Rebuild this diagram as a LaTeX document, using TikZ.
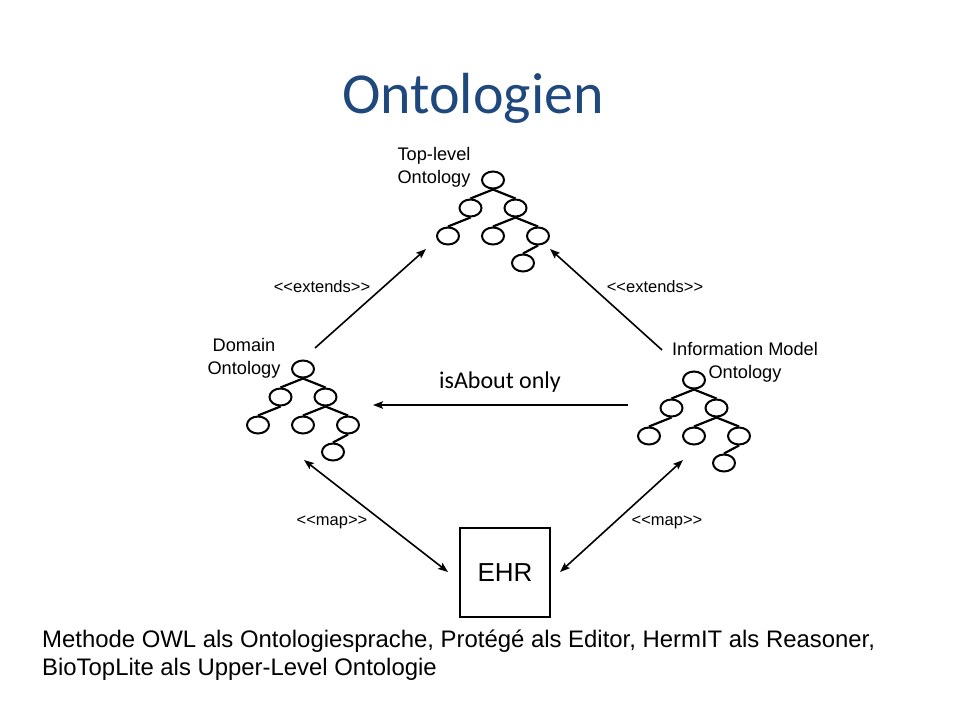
\documentclass[tikz,border=0pt]{standalone}
\usepackage{fontspec}
\setmainfont{Liberation Sans}
\newfontfamily\calibri{Carlito}
\usetikzlibrary{shapes.geometric,arrows.meta}
\definecolor{titleblue}{RGB}{31,73,125}
\tikzset{
  onode/.style={ellipse,draw,line width=2pt,minimum width=22pt,minimum height=17pt,inner sep=0pt},
  tedge/.style={line width=2.2pt},
  lbl/.style={font=\fontsize{16.5}{23}\selectfont,align=center,inner sep=0pt},
  tlbl/.style={font=\fontsize{18.2}{23}\selectfont,align=center,inner sep=0pt},
  conn/.style={line width=1.6pt,-{Stealth[length=10pt,width=7.5pt,inset=2pt]}},
  dconn/.style={line width=1.6pt,{Stealth[length=10pt,width=7.5pt,inset=2pt]}-{Stealth[length=10pt,width=7.5pt,inset=2pt]}},
}
\newcommand\onttree[2]{%
  \begin{scope}[shift={#2}]
    \node[onode] (#1r) at (0,0) {};
    \node[onode] (#1a) at (-22.5,28) {};
    \node[onode] (#1b) at (22.5,28) {};
    \node[onode] (#1c) at (-45,56) {};
    \node[onode] (#1d) at (0,56) {};
    \node[onode] (#1e) at (45,56) {};
    \node[onode] (#1f) at (30,83) {};
    \draw[tedge] (#1r.south) -- (#1a.north);
    \draw[tedge] (#1r.south) -- (#1b.north);
    \draw[tedge] (#1a.south) -- (#1c.north);
    \draw[tedge] (#1b.south) -- (#1d.north);
    \draw[tedge] (#1b.south) -- (#1e.north);
    \draw[tedge] (#1e.south) -- (#1f.north);
  \end{scope}}
\begin{document}
\begin{tikzpicture}[x=1pt,y=-1pt]
\useasboundingbox[fill=white] (0,0) rectangle (960,720);
% title
\node[font=\calibri\fontsize{58}{64}\selectfont,text=titleblue,inner sep=0pt] (title) at (473,98) {Ontologien};
% trees
\onttree{top}{(493,180)}
\onttree{dom}{(303,369)}
\onttree{inf}{(694,380)}
% tree labels
\node[tlbl] (toplbl) at (434,167) {Top-level\\Ontology};
\node[tlbl] (domlbl) at (244,358) {Domain\\Ontology};
\node[tlbl] (inflbl) at (745,362) {Information Model\\Ontology};
% EHR
\node[draw,line width=1.6pt,minimum width=90pt,minimum height=89pt,inner sep=0pt,font=\fontsize{26}{30}\selectfont] (ehr) at (505,572.5) {EHR};
% connector end coordinates
\coordinate (e1s) at (315,348);
\coordinate (e1e) at (426,249);
\coordinate (e2s) at (662,350);
\coordinate (e2e) at (550,249);
\coordinate (ias) at (628,405);
\coordinate (iae) at (373,405);
\coordinate (m1s) at (304,460);
\coordinate (m2s) at (683,460);
\coordinate (m1e) at (448,572);
\coordinate (m2e) at (560,572);
\draw[conn] (e1s) -- (e1e);
\draw[conn] (e2s) -- (e2e);
\draw[conn] (ias) -- (iae);
\draw[dconn] (m1s) -- (m1e);
\draw[dconn] (m2s) -- (m2e);
% connector labels
\node[lbl] (ext1) at (322,287) {<{}<extends>{}>};
\node[lbl] (ext2) at (655,287) {<{}<extends>{}>};
\node[lbl] (map1) at (332,522) {<{}<map>{}>};
\node[lbl] (map2) at (667,522) {<{}<map>{}>};
\node[font=\calibri\fontsize{24}{28}\selectfont,inner sep=0pt] (isab) at (500,382) {isAbout only};
% bottom text
\node[font=\fontsize{23.9}{28}\selectfont,align=left,anchor=north west,inner sep=0pt] (bottom) at (42,630) {Methode OWL als Ontologiesprache, Protégé als Editor, HermIT als Reasoner,\\BioTopLite als Upper-Level Ontologie};
\end{tikzpicture}
\end{document}
